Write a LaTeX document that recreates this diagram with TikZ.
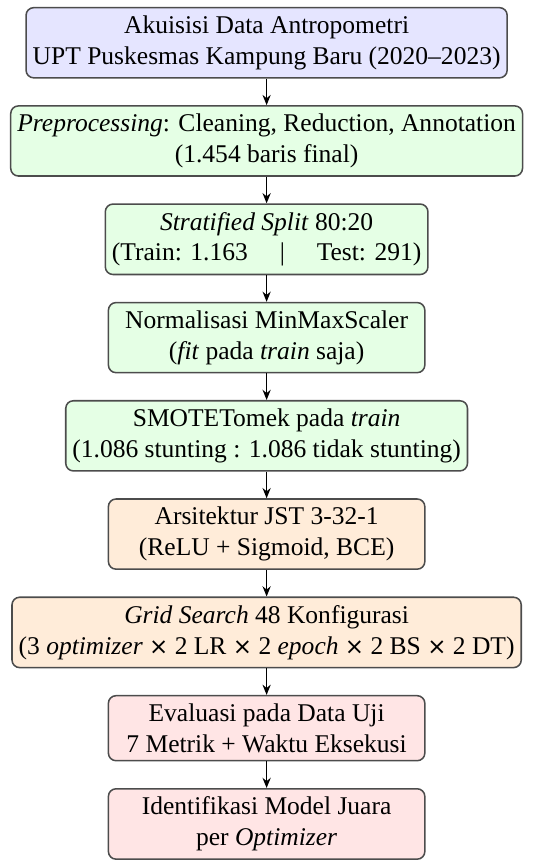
\documentclass[tikz,border=0pt]{standalone}
\usepackage{fontspec}
\setmainfont{Liberation Serif}
\newfontfamily\symfont{DejaVu Sans}
\usetikzlibrary{positioning,arrows.meta}

\newcommand{\kali}{{\symfont\small ×}}

\begin{document}
\begin{tikzpicture}[
        node distance=10.4pt,
        box/.style={draw=black!70, line width=0.6pt, rounded corners=3pt, align=center,
                    minimum width=124pt, inner xsep=2.6pt, inner ysep=3.2pt},
        flow/.style={-{Stealth[length=4pt,width=3.2pt]}, line width=0.5pt}
    ]
        % akuisisi dan praproses
        \node [box, fill=blue!10] (akuisisi) {Akuisisi Data Antropometri\\UPT Puskesmas Kampung Baru (2020--2023)};
        \node [box, fill=green!10, below=of akuisisi] (prepro) {\textit{Preprocessing}: Cleaning, Reduction, Annotation\\(1.454 baris final)};
        \node [box, fill=green!10, below=of prepro] (split) {\textit{Stratified Split} 80:20\\(Train: 1.163\quad\ |\quad\ Test: 291)};
        \node [box, fill=green!10, below=of split] (norm) {Normalisasi MinMaxScaler\\(\textit{fit} pada \textit{train} saja)};
        \node [box, fill=green!10, below=of norm] (smote) {SMOTETomek pada \textit{train}\\(1.086 stunting : 1.086 tidak stunting)};
        % model
        \node [box, fill=orange!15, below=of smote] (jst) {Arsitektur JST 3-32-1\\(ReLU + Sigmoid, BCE)};
        \node [box, fill=orange!15, below=of jst] (grid) {\textit{Grid Search} 48 Konfigurasi\\(3 \textit{optimizer} \kali{} 2 LR \kali{} 2 \textit{epoch} \kali{} 2 BS \kali{} 2 DT)};
        % evaluasi
        \node [box, fill=red!10, below=of grid] (eval) {Evaluasi pada Data Uji\\7 Metrik + Waktu Eksekusi};
        \node [box, fill=red!10, below=of eval] (juara) {Identifikasi Model Juara\\per \textit{Optimizer}};

        \draw [flow] (akuisisi) -- (prepro);
        \draw [flow] (prepro) -- (split);
        \draw [flow] (split) -- (norm);
        \draw [flow] (norm) -- (smote);
        \draw [flow] (smote) -- (jst);
        \draw [flow] (jst) -- (grid);
        \draw [flow] (grid) -- (eval);
        \draw [flow] (eval) -- (juara);

        \coordinate (kiri) at (akuisisi.north -| grid.west);
        \coordinate (kanan) at (juara.south -| grid.east);
        \path ([shift={(-4.4pt,2.7pt)}]kiri) rectangle ([shift={(4.2pt,-1.6pt)}]kanan);
    \end{tikzpicture}
\end{document}
